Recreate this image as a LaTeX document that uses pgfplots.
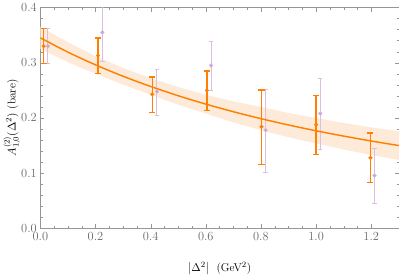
\documentclass[border=0pt]{standalone}
\usepackage{pgfplots}
\pgfplotsset{compat=1.18}
\usepgfplotslibrary{fillbetween}
\definecolor{morange}{RGB}{255,128,0}
\definecolor{mpurple}{RGB}{218,190,228}
\definecolor{mpurpled}{RGB}{205,170,220}
\definecolor{mband}{RGB}{253,234,216}
\definecolor{mgray}{RGB}{150,150,150}
\definecolor{tgray}{RGB}{105,105,105}
\begin{document}
\begin{tikzpicture}
\begin{axis}[
 scale only axis, width=347pt, height=214pt,
 xmin=0, xmax=1.3, ymin=0, ymax=0.4,
 xtick={0,0.2,0.4,0.6,0.8,1.0,1.2}, ytick={0,0.1,0.2,0.3,0.4},
 minor x tick num=3, minor y tick num=4,
 xticklabel style={/pgf/number format/.cd, fixed, fixed zerofill, precision=1},
 yticklabel style={/pgf/number format/.cd, fixed, fixed zerofill, precision=1},
 tick label style={text=tgray, font=\fontsize{11.5}{13}\selectfont},
 label style={font=\fontsize{11}{13}\selectfont},
 axis line style={mgray},
 major tick style={mgray}, minor tick style={mgray},
 tick align=inside,
 major tick length=4pt, minor tick length=2.2pt,
 xlabel={$\left|\Delta^2\right|$\ \ (GeV$^2$)},
 ylabel={$A^{(2)}_{1,0}(\Delta^2)$\ (bare)},
 xlabel style={yshift=-14pt},
 ylabel style={yshift=-6pt},
]
\addplot[name path=up, draw=none, forget plot] coordinates {
(0,0.365)(0.1,0.337)(0.2,0.312)(0.3,0.2905)(0.4,0.272)(0.5,0.256)(0.6,0.242)
(0.7,0.230)(0.8,0.220)(0.9,0.209)(1.0,0.200)(1.1,0.191)(1.2,0.183)(1.3,0.176)};
\addplot[name path=lo, draw=none, forget plot] coordinates {
(0,0.325)(0.1,0.301)(0.2,0.280)(0.3,0.2605)(0.4,0.242)(0.5,0.224)(0.6,0.208)
(0.7,0.192)(0.8,0.178)(0.9,0.165)(1.0,0.154)(1.1,0.143)(1.2,0.133)(1.3,0.124)};
\addplot[mband, draw=none] fill between[of=up and lo];
% purple data
\addplot[only marks, mark=*, mark size=1.8pt, color=mpurpled,
 error bars/.cd, y dir=both, y explicit,
 error bar style={line width=1pt, mpurple},
 error mark options={rotate=90, mark size=2.2pt, line width=1pt, mpurple}]
 coordinates {
 (0.027,0.330) +=(0,0.032) -=(0,0.031)
 (0.225,0.355) +=(0,0.070) -=(0,0.052)
 (0.423,0.248) +=(0,0.039) -=(0,0.043)
 (0.619,0.295) +=(0,0.044) -=(0,0.045)
 (0.817,0.178) +=(0,0.074) -=(0,0.076)
 (1.015,0.208) +=(0,0.064) -=(0,0.0645)
 (1.212,0.096) +=(0,0.0495) -=(0,0.050)
 };
% fit line
\addplot[morange, line width=1.4pt, smooth] coordinates {
(0,0.345)(0.1,0.3191)(0.2,0.2961)(0.3,0.2755)(0.4,0.2570)(0.5,0.2402)(0.6,0.2251)
(0.7,0.2113)(0.8,0.1988)(0.9,0.1873)(1.0,0.1768)(1.1,0.1672)(1.2,0.1583)(1.3,0.1501)};
% orange data
\addplot[only marks, mark=*, mark size=1.8pt, color=morange,
 error bars/.cd, y dir=both, y explicit,
 error bar style={line width=1.4pt, morange},
 error mark options={rotate=90, mark size=3pt, line width=1.4pt, morange}]
 coordinates {
 (0.012,0.330) +=(0,0.032) -=(0,0.031)
 (0.209,0.313) +=(0,0.032) -=(0,0.033)
 (0.406,0.243) +=(0,0.031) -=(0,0.033)
 (0.604,0.250) +=(0,0.035) -=(0,0.036)
 (0.802,0.184) +=(0,0.067) -=(0,0.0685)
 (1.000,0.188) +=(0,0.053) -=(0,0.054)
 (1.197,0.128) +=(0,0.045) -=(0,0.045)
 };
\end{axis}
\end{tikzpicture}
\end{document}
